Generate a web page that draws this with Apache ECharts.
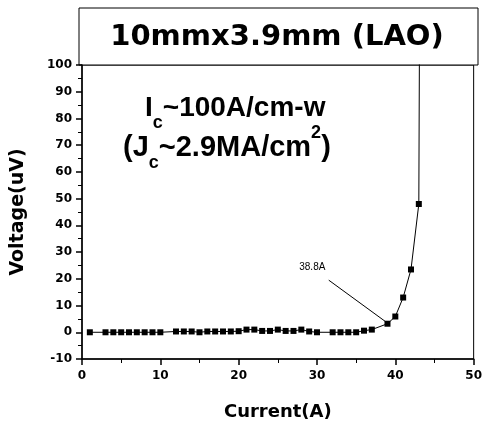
<!DOCTYPE html>
<html>
<head>
<meta charset="utf-8">
<script src="https://cdn.jsdelivr.net/npm/echarts@6/dist/echarts.min.js"></script>
<style>
  html, body { margin: 0; padding: 0; background: #fff; }
  #chart { width: 485px; height: 426px; }
</style>
</head>
<body>
<div id="chart"></div>
<script>
// measured I-V points, current in A, voltage in uV
const current = [1, 3, 4, 5, 6, 7, 8, 9, 10, 12, 13, 14, 15, 16, 17, 18, 19, 20, 21, 22, 23, 24, 25, 26, 27, 28, 29, 30, 32, 33, 34, 35, 36, 37, 39, 40, 41, 42, 43, 43.2]
const voltage = [0, 0, 0, 0, 0, 0, 0, 0, 0, 0.3, 0.3, 0.3, 0, 0.3, 0.3, 0.3, 0.3, 0.4, 1, 1, 0.5, 0.5, 1, 0.5, 0.5, 1, 0.3, 0, 0, 0, 0, 0, 0.6, 1, 3.2, 5.9, 13, 23.5, 48, 200]
const xTicks = [0, 10, 20, 30, 40, 50]
const yTicks = [-10, 0, 10, 20, 30, 40, 50, 60, 70, 80, 90, 100]
const titleText = '10mmx3.9mm (LAO)'
const icLabel = '38.8A'

const chart = echarts.init(document.getElementById('chart'))
const tickFont = { fontFamily: 'DejaVu Sans', fontWeight: 'bold', fontSize: 12, color: '#000' }
const nameFont = { fontFamily: 'DejaVu Sans', fontWeight: 'bold', fontSize: 18, color: '#000' }

const option = {
  animation: false,
  backgroundColor: '#fff',
  grid: {
    left: 82, right: 7, top: 65, bottom: 67,
    show: true, borderColor: '#000', borderWidth: 1,
  },
  xAxis: {
    type: 'value',
    min: xTicks[0], max: xTicks[xTicks.length - 1], interval: 10,
    name: 'Current(A)', nameLocation: 'middle', nameGap: 44,
    nameTextStyle: nameFont,
    axisLine: { onZero: false, lineStyle: { color: '#000', width: 1.5 } },
    axisTick: { show: true, length: 6, lineStyle: { color: '#000', width: 1.5 } },
    minorTick: { show: true, splitNumber: 2, length: 4, lineStyle: { color: '#000', width: 1 } },
    axisLabel: Object.assign({ margin: 11 }, tickFont),
    splitLine: { show: false },
  },
  yAxis: {
    type: 'value',
    min: yTicks[0], max: yTicks[yTicks.length - 1], interval: 10,
    name: 'Voltage(uV)', nameLocation: 'middle', nameGap: 54,
    nameTextStyle: Object.assign({}, nameFont, { fontSize: 19 }),
    axisLine: { onZero: false, lineStyle: { color: '#000', width: 1.5 } },
    axisTick: { show: true, length: 6, lineStyle: { color: '#000', width: 1.5 } },
    minorTick: { show: true, splitNumber: 2, length: 4, lineStyle: { color: '#000', width: 1 } },
    axisLabel: Object.assign({ margin: 10 }, tickFont),
    splitLine: { show: false },
  },
  series: [{
    type: 'line',
    data: current.map((c, i) => [c, voltage[i]]),
    clip: true,
    symbol: 'rect',
    symbolSize: 6,
    itemStyle: { color: '#000' },
    lineStyle: { color: '#000', width: 1 },
    markLine: {
      silent: true,
      symbol: ['none', 'none'],
      lineStyle: { color: '#000', width: 1, type: 'solid' },
      label: { show: false },
      data: [[{ coord: [31.5, 19.5] }, { coord: [38.7, 4.1] }]],
    },
    markPoint: {
      symbol: 'rect',
      symbolSize: 0,
      label: {
        show: true, formatter: icLabel,
        fontFamily: 'Liberation Sans', fontSize: 10, color: '#000',
      },
      data: [{ coord: [29.4, 24.3] }],
    },
  }],
  graphic: [
    {
      type: 'rect',
      shape: { x: 79, y: 8, width: 399, height: 57 },
      style: { fill: '#fff', stroke: '#000', lineWidth: 1 },
    },
    {
      type: 'text',
      x: 277, y: 37,
      style: {
        text: titleText,
        fontFamily: 'DejaVu Sans', fontWeight: 'bold', fontSize: 29,
        fill: '#000', align: 'center', verticalAlign: 'middle',
      },
    },
    {
      type: 'text',
      x: 145, y: 84,
      style: {
        text: '{m|I}{s|c}{m|~100A/cm-w}',
        rich: {
          m: { fontFamily: 'Liberation Sans', fontWeight: 'bold', fontSize: 28, lineHeight: 48, verticalAlign: 'middle', fill: '#000' },
          s: { fontFamily: 'Liberation Sans', fontWeight: 'bold', fontSize: 18, lineHeight: 16, verticalAlign: 'bottom', fill: '#000' },
        },
      },
    },
    {
      type: 'text',
      x: 123, y: 124,
      style: {
        text: '{m|(J}{s|c}{m|~2.9MA/cm}{p|2}{m|)}',
        rich: {
          m: { fontFamily: 'Liberation Sans', fontWeight: 'bold', fontSize: 29, lineHeight: 48, verticalAlign: 'middle', fill: '#000' },
          s: { fontFamily: 'Liberation Sans', fontWeight: 'bold', fontSize: 18, lineHeight: 16, verticalAlign: 'bottom', fill: '#000' },
          p: { fontFamily: 'Liberation Sans', fontWeight: 'bold', fontSize: 18, lineHeight: 30, verticalAlign: 'top', fill: '#000' },
        },
      },
    },
  ],
}
chart.setOption(option)
</script>
</body>
</html>
